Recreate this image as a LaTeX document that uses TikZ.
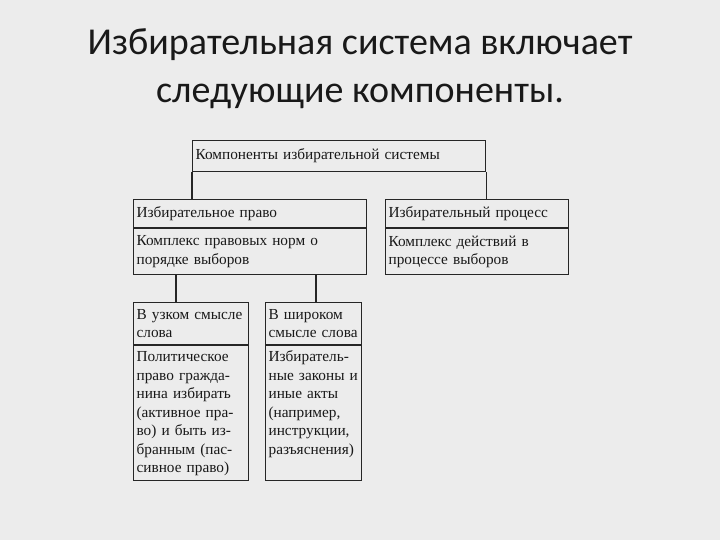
\documentclass[tikz,border=0pt]{standalone}
\usepackage{fontspec}
\setmainfont{Liberation Serif}
\newfontfamily\titlefont{Carlito}
\usetikzlibrary{positioning}
\newcommand{\boxfont}{\fontsize{15.3pt}{18.5pt}\selectfont}
\tikzset{
  cell/.style={rectangle, draw=black!85, line width=1.2pt, align=left,
               inner xsep=3pt, inner ysep=4pt, font=\boxfont, text=black!90},
  head/.style={cell, anchor=north west},
  longcell/.style={cell, text height=12pt, text depth=115pt},
  conn/.style={draw=black!85, line width=1.2pt},
}
\begin{document}
\begin{tikzpicture}[x=1pt, y=-1pt, node distance=0pt]
  \fill[gray!15] (0,0) rectangle (720,540);
  \node[font=\titlefont\fontsize{38pt}{48pt}\selectfont, align=center, text=black!90] (title) at (360,69)
    {Избирательная система включает\\следующие компоненты.};

  \node[head, text width=287pt, minimum height=31pt] (comp) at (192,140) {Компоненты избирательной системы};
  \node[head, text width=227pt, minimum height=28pt] (law) at (133,199) {Избирательное право};
  \node[cell, text width=227pt, minimum height=46pt, below=of law] (lawdef) {Комплекс правовых норм о\\порядке выборов};
  \node[head, text width=177pt, minimum height=28pt] (proc) at (385,199) {Избирательный процесс};
  \node[cell, text width=177pt, minimum height=46pt, below=of proc] (procdef) {Комплекс действий в\\процессе выборов};

  \node[head, text width=109pt, minimum height=42pt] (narrow) at (133,302) {В~узком~смысле\\слова};
  \node[longcell, text width=109pt, below=of narrow] (narrowdef)
    {Политическое\\право гражда-\\нина избирать\\(активное пра-\\во) и быть из-\\бранным (пас-\\сивное право)};
  \node[head, text width=90pt, minimum height=42pt] (wide) at (265,302) {В широком\\смысле~слова};
  \node[longcell, text width=90pt, below=of wide] (widedef)
    {Избиратель-\\ные~законы~и\\иные акты\\(например,\\инструкции,\\разъяснения)};

  \draw[conn] (comp.south west) -- (comp.south west |- law.north);
  \draw[conn] (comp.south east) -- (comp.south east |- proc.north);
  \draw[conn] ([xshift=43pt]narrow.north west |- lawdef.south) -- ([xshift=43pt]narrow.north west);
  \draw[conn] ([xshift=51pt]wide.north west |- lawdef.south) -- ([xshift=51pt]wide.north west);
\end{tikzpicture}
\end{document}
